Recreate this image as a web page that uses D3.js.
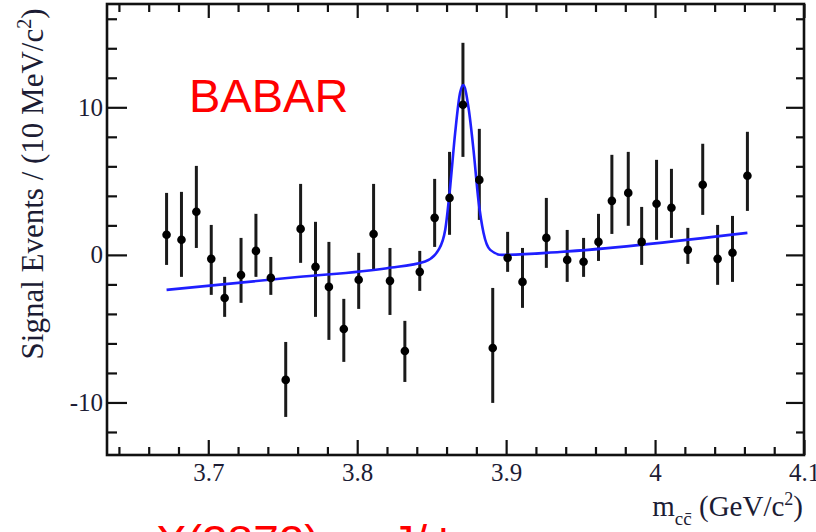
<!DOCTYPE html>
<html>
<head>
<meta charset="utf-8">
<script src="https://cdn.jsdelivr.net/npm/d3@7"></script>
<style>
  body { margin: 0; background: #fff; }
  svg { display: block; }
  .tick text { font-family: "Liberation Serif", "Times New Roman", serif; font-size: 25px; fill: #1c1c34; }
  .tick line { stroke: #111; stroke-width: 2.2px; }
</style>
</head>
<body>
<div id="chart"></div>
<script>
// bin centres (GeV/c^2), signal yield per bin, and error-bar ends
let massBins = [3.672, 3.682, 3.692, 3.702, 3.711, 3.722, 3.732, 3.742, 3.752, 3.762,
    3.772, 3.781, 3.791, 3.801, 3.811, 3.822, 3.832, 3.842, 3.852, 3.862,
    3.871, 3.882, 3.891, 3.901, 3.911, 3.927, 3.941, 3.952, 3.962, 3.971,
    3.982, 3.991, 4.001, 4.011, 4.022, 4.032, 4.042, 4.052, 4.062];
let signalEvents = [1.36, 1.02, 2.92, -0.27, -2.92, -1.36, 0.27, -1.56, -8.47, 1.76,
    -0.81, -2.17, -5.02, -1.69, 1.42, -1.76, -6.51, -1.15, 2.51, 3.86,
    10.17, 5.08, -6.31, -0.2, -1.83, 1.15, -0.34, -0.47, 0.88, 3.66,
    4.2, 0.88, 3.46, 3.19, 0.34, 4.75, -0.27, 0.14, 5.36];
let errTop = [4.2, 4.27, 6.03, 2.03, -1.49, 1.15, 2.78, -0.14, -5.9, 4.81,
    2.24, 0.88, -2.98, 0.14, 4.81, 0.47, -4.47, 0.27, 5.15, 6.98,
    14.37, 8.54, -2.24, 1.56, 0.47, 3.86, 1.69, 1.15, 2.78, 6.78,
    6.98, 3.25, 6.44, 5.83, 1.83, 7.53, 2.03, 2.64, 8.34];
let errBottom = [-0.68, -1.49, 0.47, -2.71, -4.2, -3.25, -1.49, -2.71, -10.98, -0.54,
    -4.2, -5.76, -7.25, -3.66, -1.02, -4.07, -8.61, -2.44, 0.54, 1.36,
    6.64, 2.37, -10.03, -1.15, -3.59, -0.88, -1.83, -1.49, -0.41, 1.42,
    1.97, -0.68, 1.02, 1.15, -0.61, 2.71, -2.03, -1.83, 2.98];

// fit curve
let fitMass = [3.672, 3.76, 3.82, 3.8456, 3.8546, 3.8591, 3.8624, 3.8658, 3.8691, 3.8713,
    3.8747, 3.8781, 3.8814, 3.8848, 3.8893, 3.8971, 3.936, 4.062];
let fitValue = [-2.37, -1.5, -0.9, -0.45, 0.34, 1.7, 4.6, 8.3, 11.0, 11.5,
    10.0, 7.1, 3.7, 1.5, 0.34, 0.0, 0.2, 1.49];

let xMajorTicks = [3.7, 3.8, 3.9, 4.0, 4.1];
let yMajorTicks = [-10, 0, 10];

let width = 816, height = 532;
let margin = { top: 4, right: 12, bottom: 77, left: 107 };
let plotW = width - margin.left - margin.right;
let plotH = height - margin.top - margin.bottom;

let svg = d3.select("#chart").append("svg")
    .attr("width", width)
    .attr("height", height);

let g = svg.append("g").attr("transform", `translate(${margin.left},${margin.top})`);

let x = d3.scaleLinear().domain([3.632, 4.1]).range([0, plotW]);
let y = d3.scaleLinear().domain([-13.56, 17.0]).range([plotH, 0]);

let xMinor = d3.range(3.64, 4.1001, 0.02).filter(v => !xMajorTicks.some(t => Math.abs(t - v) < 1e-6));
let yMinor = d3.range(-12, 17, 2).filter(v => !yMajorTicks.includes(v));

// bottom + top axes, ticks pointing inward
g.append("g").attr("transform", `translate(0,${plotH})`)
    .call(d3.axisBottom(x).tickValues(xMinor).tickSize(-8).tickFormat(""));
g.append("g").attr("transform", `translate(0,${plotH})`)
    .call(d3.axisBottom(x).tickValues(xMajorTicks).tickSize(-15).tickPadding(8).tickFormat(d3.format("~g")));
g.append("g")
    .call(d3.axisTop(x).tickValues(xMinor).tickSize(-8).tickFormat(""));
g.append("g")
    .call(d3.axisTop(x).tickValues(xMajorTicks).tickSize(-14).tickFormat(""));

// left + right axes
g.append("g")
    .call(d3.axisLeft(y).tickValues(yMinor).tickSize(-10).tickFormat(""));
g.append("g")
    .call(d3.axisLeft(y).tickValues(yMajorTicks).tickSize(-20).tickPadding(4).tickFormat(d => String(d)));
g.append("g").attr("transform", `translate(${plotW},0)`)
    .call(d3.axisRight(y).tickValues(yMinor).tickSize(-8).tickFormat(""));
g.append("g").attr("transform", `translate(${plotW},0)`)
    .call(d3.axisRight(y).tickValues(yMajorTicks).tickSize(-18).tickFormat(""));

g.selectAll(".domain").remove();

g.append("rect")
    .attr("width", plotW)
    .attr("height", plotH)
    .attr("fill", "none")
    .attr("stroke", "#111")
    .attr("stroke-width", 2.6);

let points = massBins.map((m, i) => ({ m: m, v: signalEvents[i], hi: errTop[i], lo: errBottom[i] }));

g.selectAll("line.err")
    .data(points)
    .enter()
    .append("line")
    .attr("class", "err")
    .attr("x1", d => x(d.m))
    .attr("x2", d => x(d.m))
    .attr("y1", d => y(d.hi))
    .attr("y2", d => y(d.lo))
    .attr("stroke", "#1a1a1a")
    .attr("stroke-width", 3);

// fit line
let fit = fitMass.map((m, i) => [m, fitValue[i]]);
g.append("path")
    .datum(fit)
    .attr("fill", "none")
    .attr("stroke", "#1f1fff")
    .attr("stroke-width", 2.6)
    .attr("d", d3.line().x(d => x(d[0])).y(d => y(d[1])).curve(d3.curveMonotoneX));

g.selectAll("circle.pt")
    .data(points)
    .enter()
    .append("circle")
    .attr("class", "pt")
    .attr("cx", d => x(d.m))
    .attr("cy", d => y(d.v))
    .attr("r", 4.3)
    .attr("fill", "#000");

// labels
let yLab = svg.append("text")
    .attr("transform", "translate(43,184) rotate(-90)")
    .attr("text-anchor", "middle")
    .style("font-family", "'Liberation Serif', 'Times New Roman', serif")
    .style("font-size", "31px")
    .attr("fill", "#1c1c34");
yLab.append("tspan").text("Signal Events / (10 MeV/c");
yLab.append("tspan").attr("dy", -12).style("font-size", "20px").text("2");
yLab.append("tspan").attr("dy", 12).text(")");

let xLab = svg.append("text")
    .attr("x", 803)
    .attr("y", 516)
    .attr("text-anchor", "end")
    .style("font-family", "'Liberation Serif', 'Times New Roman', serif")
    .style("font-size", "29px")
    .attr("fill", "#1c1c34");
xLab.append("tspan").text("m");
xLab.append("tspan").attr("dy", 9).style("font-size", "19px").text("c\u0063\u0304");
xLab.append("tspan").attr("dy", -9).text(" (GeV/c");
xLab.append("tspan").attr("dy", -11).style("font-size", "18px").text("2");
xLab.append("tspan").attr("dy", 11).text(")");

svg.append("text")
    .attr("x", 189)
    .attr("y", 112)
    .style("font-family", "'Liberation Sans', Arial, sans-serif")
    .style("font-size", "47px")
    .attr("fill", "#ff0000")
    .text("BABAR");

svg.append("text")
    .attr("x", 156)
    .attr("y", 558)
    .style("font-family", "'Liberation Sans', Arial, sans-serif")
    .style("font-size", "46px")
    .attr("fill", "#ff0000")
    .text("X(3872) \u2192 J/\u03c8");
</script>
</body>
</html>
